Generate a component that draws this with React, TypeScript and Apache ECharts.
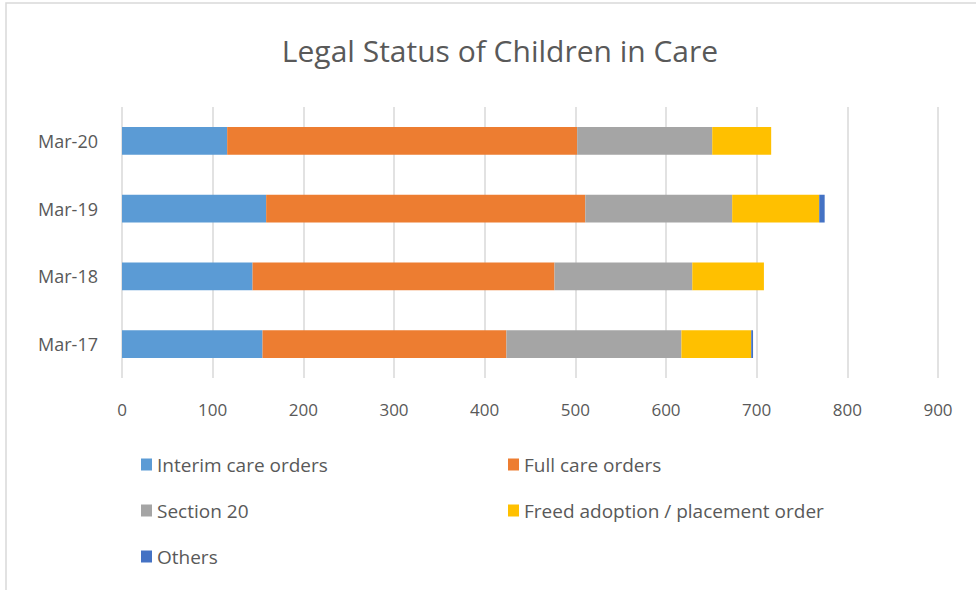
import React, { useEffect, useRef } from "react";
import * as echarts from "echarts";

const categories = ["Mar-17", "Mar-18", "Mar-19", "Mar-20"];
const interimCare = [155, 144, 159, 116];
const fullCare = [269, 333, 352, 386];
const section20 = [193, 152, 162, 149];
const freedAdoption = [77, 79, 96, 65];
const others = [2, 0, 6, 0];
const xTicks = [0, 100, 200, 300, 400, 500, 600, 700, 800, 900];

const seriesNames = [
  "Interim care orders",
  "Full care orders",
  "Section 20",
  "Freed adoption / placement order",
  "Others",
];
const seriesData = [interimCare, fullCare, section20, freedAdoption, others];
const colors = ["#5B9BD5", "#ED7D31", "#A5A5A5", "#FFC000", "#4472C4"];

const FONT = "'Open Sans', 'Noto Sans', sans-serif";

export default function App() {
  const ref = useRef<HTMLDivElement>(null);
  useEffect(() => {
    if (!ref.current) return;
    const chart = echarts.init(ref.current, null, { renderer: "svg" });
    const legendPos = [
      { left: 136, top: 450 },
      { left: 503, top: 450 },
      { left: 136, top: 496 },
      { left: 503, top: 496 },
      { left: 136, top: 542 },
    ];
    chart.setOption({
      animation: false,
      backgroundColor: "#ffffff",
      title: {
        text: "Legal Status of Children in Care",
        left: 495,
        top: 30,
        textAlign: "center",
        textStyle: {
          fontFamily: FONT,
          fontSize: 30,
          fontWeight: "normal",
          color: "#595959",
        },
      },
      graphic: [
        {
          type: "rect",
          shape: { x: 6, y: 3, width: 1000, height: 700 },
          style: { fill: "none", stroke: "#D9D9D9", lineWidth: 1.5 },
          silent: true,
        },
      ],
      legend: legendPos.map((p, i) => ({
        left: p.left,
        top: p.top,
        data: [seriesNames[i]],
        itemWidth: 11,
        itemHeight: 12,
        itemGap: 10,
        icon: "rect",
        textStyle: { fontFamily: FONT, fontSize: 19, color: "#595959" },
        selectedMode: false,
      })),
      grid: { left: 122, right: 38, top: 107, bottom: 212, containLabel: false },
      xAxis: {
        type: "value",
        min: xTicks[0],
        max: xTicks[xTicks.length - 1],
        interval: 100,
        axisLine: { show: false },
        axisTick: { show: false },
        splitLine: { lineStyle: { color: "#D9D9D9", width: 1.5 } },
        axisLabel: {
          fontFamily: FONT,
          fontSize: 17,
          color: "#595959",
          margin: 23,
        },
      },
      yAxis: {
        type: "category",
        data: categories,
        axisLine: { show: false },
        axisTick: { show: false },
        axisLabel: {
          fontFamily: FONT,
          fontSize: 18,
          color: "#595959",
          margin: 24,
        },
      },
      series: seriesNames.map((name, i) => ({
        name,
        type: "bar",
        stack: "total",
        barWidth: "41%",
        data: seriesData[i],
        itemStyle: { color: colors[i] },
      })),
    });
    return () => chart.dispose();
  }, []);
  return (
    <div
      ref={ref}
      style={{ position: "fixed", left: 0, top: 0, width: 976, height: 590 }}
    />
  );
}
